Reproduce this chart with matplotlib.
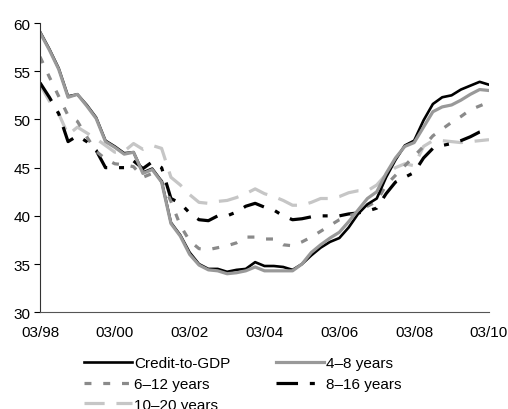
import matplotlib
matplotlib.use("Agg")
import matplotlib.pyplot as plt
import numpy as np

plt.rcParams['font.family'] = ['Liberation Sans', 'DejaVu Sans']
plt.rcParams['lines.scale_dashes'] = False

# Quarterly observations, 03/1998 .. 03/2010
quarters = np.arange(49)
tick_labels = ["03/98", "03/00", "03/02", "03/04", "03/06", "03/08", "03/10"]

credit_to_gdp = [59.1, 57.3, 55.3, 52.4, 52.6, 51.5, 50.2, 47.8, 47.2, 46.5,
                 46.6, 44.5, 44.9, 43.6, 39.3, 38.0, 36.2, 35.0, 34.5, 34.5,
                 34.2, 34.4, 34.5, 35.2, 34.8, 34.8, 34.7, 34.4, 35.0, 35.9,
                 36.7, 37.3, 37.7, 38.8, 40.2, 41.2, 41.8, 44.0, 45.8, 47.3,
                 47.8, 49.9, 51.6, 52.3, 52.5, 53.1, 53.5, 53.9, 53.6]

years_4_8 = [59.0, 57.2, 55.2, 52.3, 52.6, 51.4, 50.1, 47.7, 47.1, 46.4,
             46.6, 44.4, 44.8, 43.5, 39.2, 37.9, 36.0, 34.9, 34.4, 34.3,
             34.0, 34.1, 34.3, 34.7, 34.3, 34.3, 34.3, 34.3, 35.0, 36.2,
             37.0, 37.7, 38.3, 39.4, 40.6, 41.8, 42.5, 44.4, 46.0, 47.2,
             47.6, 49.2, 50.8, 51.3, 51.5, 52.0, 52.6, 53.1, 53.0]

years_6_12 = [56.5, 54.4, 52.4, 50.4, 49.8, 48.2, 46.7, 45.9, 45.4, 45.3,
              45.1, 44.0, 44.4, 43.6, 41.5, 39.0, 37.4, 36.6, 36.5, 36.7,
              36.9, 37.2, 37.8, 37.8, 37.6, 37.6, 37.0, 36.9, 37.3, 37.8,
              38.4, 39.0, 39.6, 40.0, 40.3, 41.0, 41.5, 43.2, 44.2, 45.2,
              46.2, 47.2, 48.3, 49.0, 49.7, 50.3, 51.0, 51.4, 51.8]

years_8_16 = [53.8, 52.3, 50.6, 47.7, 48.3, 47.7, 46.8, 45.0, 45.0, 45.0,
              45.7, 44.9, 45.6, 45.0, 41.8, 41.3, 40.3, 39.6, 39.5, 40.0,
              40.0, 40.4, 41.0, 41.3, 40.9, 40.6, 40.0, 39.6, 39.7, 39.9,
              40.0, 40.0, 40.0, 40.2, 40.3, 40.5, 40.8, 42.3, 43.5, 44.0,
              44.5, 46.0, 47.0, 47.3, 47.5, 47.8, 48.2, 48.7, 49.0]

years_10_20 = [53.6, 51.9, 50.6, 48.4, 49.2, 48.6, 48.0, 47.3, 46.6, 46.7,
               47.5, 46.9, 47.3, 47.0, 44.0, 43.2, 42.2, 41.4, 41.3, 41.5,
               41.6, 41.9, 42.3, 42.8, 42.3, 42.0, 41.6, 41.1, 41.1, 41.4,
               41.8, 41.8, 42.0, 42.4, 42.6, 42.6, 43.2, 44.3, 45.0, 45.4,
               45.2, 47.2, 47.8, 47.8, 47.7, 47.6, 47.7, 47.8, 47.9]

fig = plt.figure(figsize=(5.08, 4.10), dpi=100)
ax = fig.add_axes([40 / 508, 1 - 313.3 / 410, 449 / 508, (313.3 - 24) / 410])

l_10_20, = ax.plot(quarters, years_10_20, color='#c6c6c6', lw=2.3,
                   dashes=(14.5, 8.5), solid_capstyle='butt', dash_capstyle='butt',
                   label='10\u201320 years')
l_8_16, = ax.plot(quarters, years_8_16, color='black', lw=2.3,
                  dashes=(15.5, 8.5, 3.6, 8.5), dash_capstyle='butt',
                  label='8\u201316 years')
l_6_12, = ax.plot(quarters, years_6_12, color='#8a8a8a', lw=2.3,
                  dashes=(5.0, 8.5), dash_capstyle='butt',
                  label='6\u201312 years')
l_credit, = ax.plot(quarters, credit_to_gdp, color='black', lw=1.9,
                    label='Credit-to-GDP')
l_4_8, = ax.plot(quarters, years_4_8, color='#999999', lw=2.3,
                 label='4\u20138 years')

ax.set_xlim(0, 48)
ax.set_ylim(30, 60)
ax.set_yticks(np.arange(30, 61, 5))
ax.set_xticks(np.arange(0, 49, 8))
ax.set_xticklabels(tick_labels)
ax.tick_params(axis='x', length=0, pad=9, labelsize=11)
ax.tick_params(axis='y', direction='out', length=4, width=0.8, pad=3, labelsize=11)
ax.spines['top'].set_visible(False)
ax.spines['right'].set_visible(False)
ax.spines['left'].set_color('#333333')
ax.spines['bottom'].set_color('#555555')
ax.spines['left'].set_linewidth(0.8)
ax.spines['bottom'].set_linewidth(0.8)

handles = [l_credit, l_6_12, l_10_20, l_4_8, l_8_16]
fig.legend(handles=handles, labels=[h.get_label() for h in handles],
           loc='upper left', bbox_to_anchor=(84 / 508, 1 - 357 / 410),
           ncol=2, frameon=False, fontsize=11, borderpad=0, borderaxespad=0,
           handlelength=3.15, handletextpad=0.13, columnspacing=3.0,
           labelspacing=0.45)

fig.savefig('out.png', dpi=100)
